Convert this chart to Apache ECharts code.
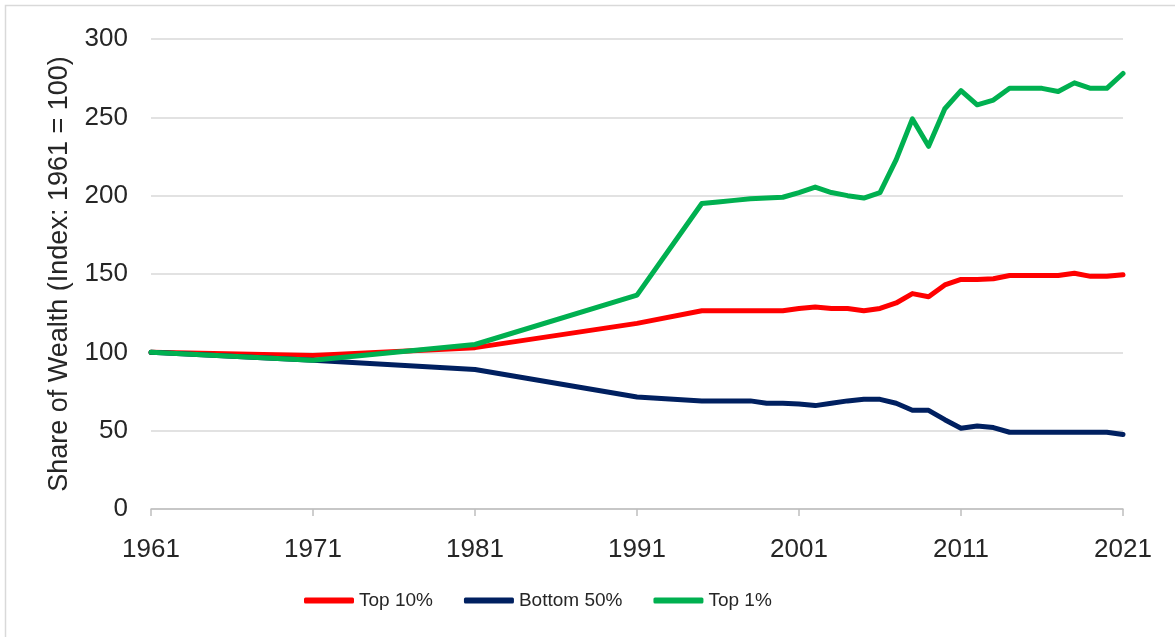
<!DOCTYPE html>
<html lang="en">
<head>
    <meta charset="UTF-8">
    <title>Share of Wealth</title>
    <script src="https://cdn.jsdelivr.net/npm/echarts@6/dist/echarts.min.js"></script>
    <style>
        html, body { margin: 0; padding: 0; background: #fff; }
        #chart { width: 1175px; height: 637px; }
    </style>
</head>
<body>
<div id="chart"></div>
<script type="text/javascript">
    var baseYear = 1961;
    var years = [1961, 1971, 1981, 1991, 1995, 1996, 1997, 1998, 1999, 2000,
        2001, 2002, 2003, 2004, 2005, 2006, 2007, 2008, 2009, 2010,
        2011, 2012, 2013, 2014, 2015, 2016, 2017, 2018, 2019, 2020, 2021];
    var top10 = [100, 98, 103, 118.5, 126.5, 126.5, 126.5, 126.5, 126.5, 126.5,
        128, 129, 128, 128, 126.5, 128, 131.5, 137.5, 135.5, 143,
        146.5, 146.5, 147, 149, 149, 149, 149, 150.5, 148.5, 148.5, 149.5];
    var bottom50 = [100, 95, 89, 71.5, 69, 69, 69, 69, 67.5, 67.5,
        67, 66, 67.5, 69, 70, 70, 67.5, 63, 63, 57,
        51.5, 53, 52, 49, 49, 49, 49, 49, 49, 49, 47.5];
    var top1 = [100, 95, 105, 136.5, 195, 196, 197, 198, 198.5, 199,
        202, 205.5, 202, 200, 198.5, 202, 223, 249, 231.5, 255.5,
        267, 258, 261, 268.5, 268.5, 268.5, 266.5, 272, 268.5, 268.5, 278];

    function pairs(vals) {
        var out = [];
        for (var i = 0; i < years.length; i++) {
            out.push([years[i] - baseYear, vals[i]]);
        }
        return out;
    }

    function lineSeries(name, vals, color) {
        return {
            name: name,
            type: 'line',
            data: pairs(vals),
            showSymbol: false,
            symbol: 'none',
            lineStyle: { width: 5, color: color, cap: 'round', join: 'round' },
            itemStyle: { color: color }
        };
    }

    var font = 'Liberation Sans, Arial, sans-serif';
    var option = {
        animation: false,
        textStyle: { fontFamily: font },
        graphic: [{
            type: 'rect',
            shape: { x: 5.5, y: 5.5, width: 1200, height: 700 },
            style: { fill: 'none', stroke: '#d9d9d9', lineWidth: 1.5 },
            silent: true
        }],
        grid: { left: 151, right: 52, top: 39, bottom: 128 },
        legend: {
            left: 299,
            top: 586,
            icon: 'roundRect',
            itemWidth: 50,
            itemHeight: 6,
            itemGap: 31,
            textStyle: { fontSize: 19, color: '#262626', fontFamily: font },
            data: ['Top 10%', 'Bottom 50%', 'Top 1%']
        },
        xAxis: {
            type: 'value',
            min: 0,
            max: 60,
            interval: 10,
            axisLine: { show: true, lineStyle: { color: '#bfbfbf', width: 1.5 } },
            axisTick: { show: true, length: 7, lineStyle: { color: '#bfbfbf', width: 1.5 } },
            splitLine: { show: false },
            axisLabel: {
                margin: 28,
                fontSize: 26,
                color: '#262626',
                fontFamily: font,
                formatter: function (v) { return String(baseYear + v); }
            }
        },
        yAxis: {
            type: 'value',
            min: 0,
            max: 300,
            interval: 50,
            name: 'Share of Wealth (Index: 1961 = 100)',
            nameLocation: 'middle',
            nameGap: 78,
            nameTextStyle: { fontSize: 27, color: '#262626', fontFamily: font },
            axisLine: { show: false },
            axisTick: { show: false },
            splitLine: { lineStyle: { color: '#d9d9d9', width: 1.5 } },
            axisLabel: { margin: 23, fontSize: 26, color: '#262626', fontFamily: font }
        },
        series: [
            lineSeries('Top 10%', top10, '#ff0000'),
            lineSeries('Bottom 50%', bottom50, '#002060'),
            lineSeries('Top 1%', top1, '#00b050')
        ]
    };

    var myChart = echarts.init(document.getElementById('chart'));
    myChart.setOption(option);
</script>
</body>
</html>
